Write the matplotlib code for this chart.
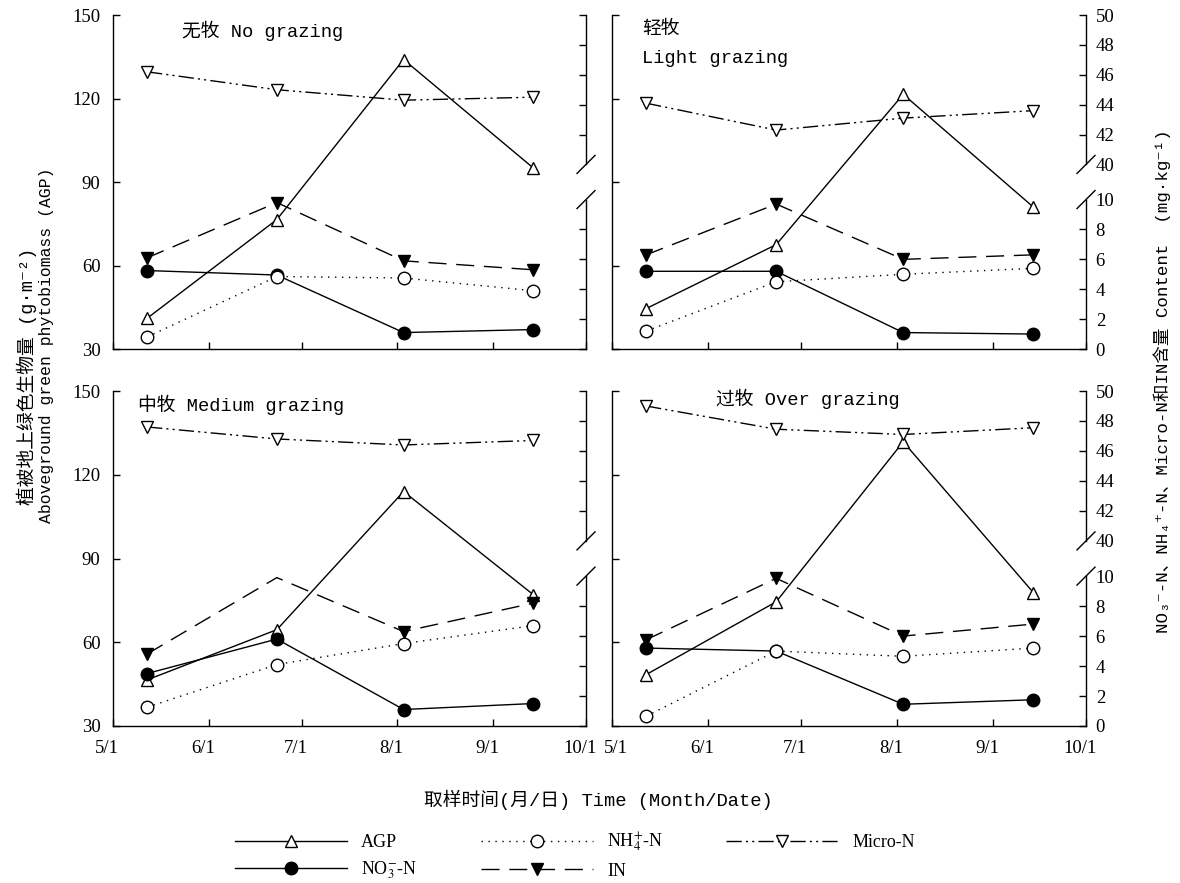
import matplotlib
matplotlib.use("Agg")
import matplotlib.pyplot as plt
from matplotlib.lines import Line2D
from matplotlib.transforms import ScaledTranslation

plt.rcParams['font.family'] = ['Liberation Serif', 'Noto Sans CJK SC', 'DejaVu Sans']
plt.rcParams['mathtext.fontset'] = 'stix'

# ---------------- data ----------------
month_ticks = [0, 31, 61, 92, 123, 153]          # days after 5/1
month_labels = ['5/1', '6/1', '7/1', '8/1', '9/1', '10/1']
sample_days = [11, 53, 94, 136]                  # 5/12, 6/23, 8/3, 9/14

panel_titles = ['无牧 No grazing', '轻牧\nLight grazing', '中牧 Medium grazing', '过牧 Over grazing']

agp_no = [41, 76.5, 134, 95]
agp_light = [44.5, 67.5, 121.5, 81]
agp_medium = [46.5, 64.5, 114, 77]
agp_over = [48.4, 74.5, 131.8, 77.8]

nh4_no = [0.8, 4.85, 4.75, 3.9]
nh4_light = [1.2, 4.5, 5.0, 5.4]
nh4_medium = [1.25, 4.1, 5.5, 6.7]
nh4_over = [0.65, 5.0, 4.65, 5.2]

no3_no = [5.25, 4.95, 1.1, 1.3]
no3_light = [5.2, 5.2, 1.1, 1.0]
no3_medium = [3.5, 5.8, 1.1, 1.5]
no3_over = [5.2, 5.0, 1.45, 1.75]

in_no = [6.1, 9.8, 5.9, 5.3]
in_light = [6.3, 9.7, 6.0, 6.3]
in_medium = [4.8, 9.9, 6.3, 8.2]
in_over = [5.75, 9.85, 6.0, 6.8]

micro_no = [46.2, 45.0, 44.3, 44.5]
micro_light = [44.1, 42.3, 43.1, 43.6]
micro_medium = [47.6, 46.8, 46.4, 46.7]
micro_over = [49.0, 47.45, 47.1, 47.55]

agp_ticks = [30, 60, 90, 120, 150]
right_low_ticks = [0, 2, 4, 6, 8, 10]
right_high_ticks = [40, 42, 44, 46, 48, 50]

panels = [
    (agp_no, nh4_no, no3_no, in_no, micro_no),
    (agp_light, nh4_light, no3_light, in_light, micro_light),
    (agp_medium, nh4_medium, no3_medium, in_medium, micro_medium),
    (agp_over, nh4_over, no3_over, in_over, micro_over),
]
in_marker_idx = [[0, 1, 2, 3], [0, 1, 2, 3], [0, 2, 3], [0, 1, 2, 3]]

# broken right axis: 0-10 and 40-50 with a gap
GAP = 2.35
def vmap(vals):
    return [v if v <= 10 else v - 40 + 10 + GAP for v in vals]
VMAX = 10 + GAP + 10

# ---------------- styles ----------------
LW = 1.0
MS = 9
sty_agp = dict(color='k', lw=LW, ls='-', marker='^', ms=MS, mfc='white', mec='k', mew=1.0)
sty_no3 = dict(color='k', lw=LW, ls='-', marker='o', ms=MS, mfc='k', mec='k', mew=1.0)
sty_nh4 = dict(color='k', lw=LW, ls=(0, (1, 4)), marker='o', ms=MS, mfc='white', mec='k', mew=1.0)
sty_in = dict(color='k', lw=LW, ls=(0, (13, 7)), marker='v', ms=MS, mfc='k', mec='k', mew=1.0)
sty_micro = dict(color='k', lw=LW, ls=(0, (11, 3, 1.5, 3, 1.5, 3)), marker='v', ms=MS, mfc='white', mec='k', mew=1.0)

W, H = 1180, 883
fig = plt.figure(figsize=(W / 100, H / 100), dpi=100)

boxes = [
    (113, 15, 473, 334),
    (612, 15, 474, 334),
    (113, 391, 473, 335),
    (612, 391, 474, 335),
]
title_pos = [(0.145, 0.952), (0.063, 0.958), (0.053, 0.958), (0.219, 0.976)]

TICKFS = 13.5
mono_cjk = ['Liberation Mono', 'Noto Sans CJK SC', 'DejaVu Sans']
shift_left = ScaledTranslation(-6 / 100, 0, fig.dpi_scale_trans)
shift_right = ScaledTranslation(4 / 100, 0, fig.dpi_scale_trans)

for i, (x0, y0, w, h) in enumerate(boxes):
    ax = fig.add_axes([x0 / W, 1 - (y0 + h) / H, w / W, h / H])
    ax2 = ax.twinx()
    agp, nh4, no3, inn, micro = panels[i]
    is_left = i % 2 == 0
    is_bottom = i >= 2

    ax.plot(sample_days, agp, zorder=3, **sty_agp)
    ax2.plot(sample_days, vmap(no3), zorder=2, **sty_no3)
    ax2.plot(sample_days, vmap(nh4), zorder=3, **sty_nh4)
    ax2.plot(sample_days, vmap(inn), zorder=4, markevery=in_marker_idx[i], **sty_in)
    ax2.plot(sample_days, vmap(micro), zorder=5, **sty_micro)

    ax.set_xlim(month_ticks[0], month_ticks[-1])
    ax.set_ylim(30, 150)
    ax.set_xticks(month_ticks)
    ax.set_yticks(agp_ticks)
    ax.set_xticklabels(month_labels if is_bottom else [''] * len(month_ticks))
    ax.set_yticklabels(agp_ticks if is_left else [''] * len(agp_ticks))
    ax.tick_params(direction='in', length=5, width=1, labelsize=TICKFS)
    ax.tick_params(axis='y', pad=9)
    ax.tick_params(axis='x', pad=10)
    for k, lab in enumerate(ax.get_xticklabels()):
        if k == 0 and not is_left:
            lab.set_transform(lab.get_transform() + shift_right)
        else:
            lab.set_transform(lab.get_transform() + shift_left)
    ax.spines['top'].set_visible(False)
    ax.spines['right'].set_visible(False)
    for s in ('left', 'bottom'):
        ax.spines[s].set_linewidth(1.0)

    ax2.set_ylim(0, VMAX)
    rticks = vmap(right_low_ticks + right_high_ticks)
    ax2.set_yticks(rticks)
    ax2.set_yticklabels(right_low_ticks + right_high_ticks if not is_left else [''] * len(rticks))
    ax2.tick_params(direction='in', length=5, width=1, labelsize=TICKFS, pad=7)
    for t, v in zip(ax2.yaxis.get_major_ticks(), right_low_ticks + right_high_ticks):
        if v in (10, 40):
            t.tick2line.set_visible(False)
    for s in ('top', 'left', 'bottom', 'right'):
        ax2.spines[s].set_visible(False)
    f10 = 10 / VMAX
    f40 = (10 + GAP) / VMAX
    ax2.plot([1, 1], [0, f10], transform=ax2.transAxes, color='k', lw=1.0, clip_on=False)
    ax2.plot([1, 1], [f40, 1], transform=ax2.transAxes, color='k', lw=1.0, clip_on=False)
    dx = 9 / w
    dy = 9 / h
    for f in (f10, f40):
        ax2.plot([1 - dx, 1 + dx], [f - dy, f + dy], transform=ax2.transAxes,
                 color='k', lw=1.0, clip_on=False)

    tx, ty = title_pos[i]
    if i == 1:
        ax.text(tx, ty, '轻牧', transform=ax.transAxes, fontsize=13.5,
                family=mono_cjk, ha='left', va='center')
        ax.text(tx, 0.871, 'Light grazing', transform=ax.transAxes, fontsize=13.5,
                family=mono_cjk, ha='left', va='center')
    else:
        ax.text(tx, ty, panel_titles[i], transform=ax.transAxes, fontsize=13.5,
                family=mono_cjk, ha='left', va='center')

# axis labels (unicode super/subscripts so the CJK fallback keeps working)
fig.text(27 / W, 1 - 376 / H, '植被地上绿色生物量 (g·m⁻²)', rotation=90,
         ha='center', va='center', fontsize=13.5, family=mono_cjk)
fig.text(47 / W, 1 - 345 / H, 'Aboveground green phytobiomass (AGP)', rotation=90,
         ha='center', va='center', fontsize=11.8, family=mono_cjk)
fig.text(1162 / W, 1 - 381 / H,
         'NO₃⁻-N、NH₄⁺-N、Micro-N和IN含量 Content  (mg·kg⁻¹)',
         rotation=90, ha='center', va='center', fontsize=12.6, family=mono_cjk)
fig.text(598 / W, 1 - 800 / H, '取样时间(月/日) Time (Month/Date)', ha='center', va='center',
         fontsize=13.5, family=mono_cjk)

# legend
handles = [
    Line2D([], [], **sty_agp),
    Line2D([], [], **sty_no3),
    Line2D([], [], **sty_nh4),
    Line2D([], [], **sty_in),
    Line2D([], [], **sty_micro),
]
labels = ['AGP', 'NO$_3^{-}$-N', 'NH$_4^{+}$-N', 'IN', 'Micro-N']
fig.legend(handles, labels, loc='center', bbox_to_anchor=(575 / W, 1 - 856 / H), ncol=3,
           frameon=False, fontsize=13, handlelength=6.2, columnspacing=3.5,
           labelspacing=0.45, handletextpad=0.8)

fig.savefig('out.png', dpi=100)
